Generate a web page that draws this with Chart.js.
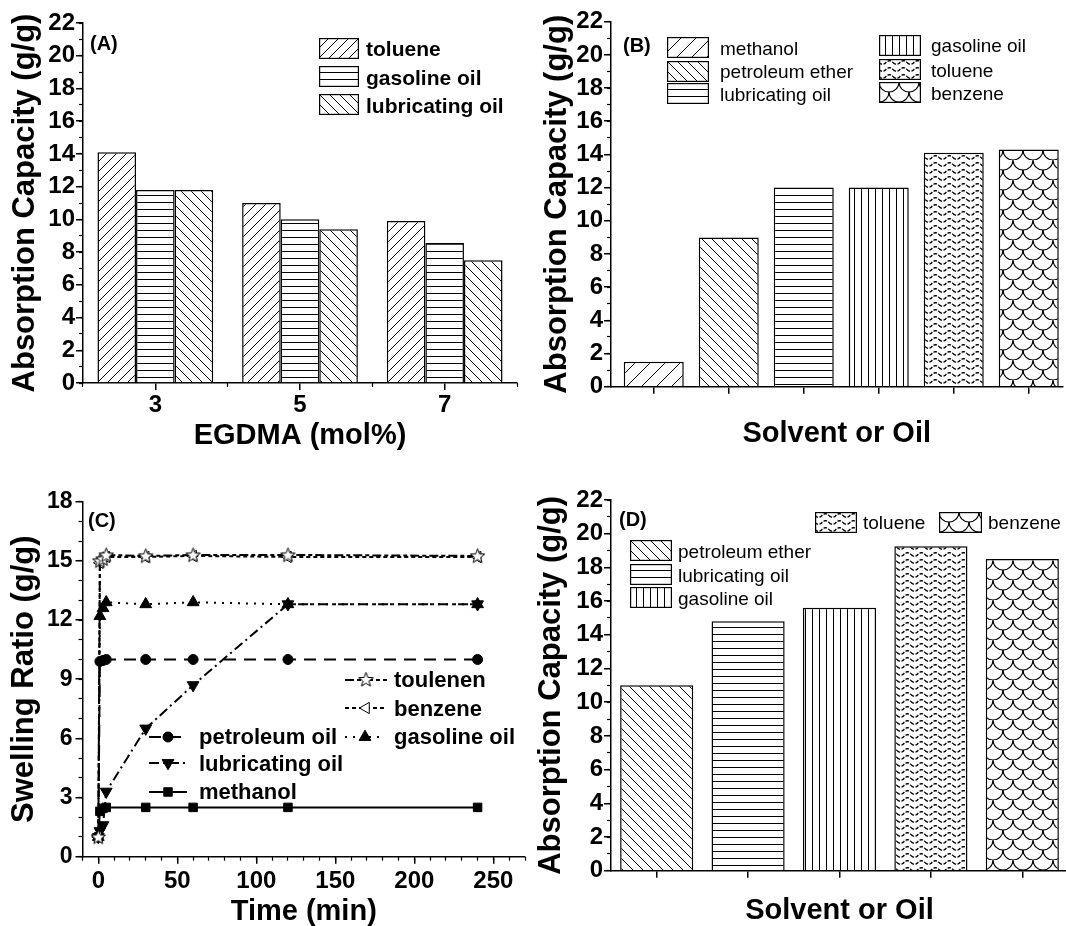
<!DOCTYPE html>
<html><head><meta charset="utf-8">
<script src="https://cdn.jsdelivr.net/npm/chart.js@4.4.1/dist/chart.umd.min.js"></script>
<style>
html,body{margin:0;padding:0;background:#fff;overflow:hidden;width:1066px;height:926px;}
.cv{position:absolute;}
.t{position:absolute;font-family:'Liberation Sans',Arial,Helvetica,sans-serif;color:#000;white-space:nowrap;line-height:1;}
.b{font-weight:bold;}
.sw{position:absolute;}
</style></head><body>
<canvas id="cA" class="cv" width="533" height="460" style="left:0;top:0"></canvas>
<canvas id="cB" class="cv" width="533" height="460" style="left:533px;top:0"></canvas>
<canvas id="cC" class="cv" width="533" height="466" style="left:0;top:460px"></canvas>
<canvas id="cD" class="cv" width="545" height="466" style="left:533px;top:460px"></canvas>
<div id="overlay"></div>
<script>
// ---------------- DATA ----------------
const egdmaLabels = ['3', '5', '7'];
const aToluene = [14.1, 11.0, 9.9];
const aGasoline = [11.8, 10.0, 8.55];
const aLubricating = [11.8, 9.4, 7.5];

const bSolvents = ['methanol', 'petroleum ether', 'lubricating oil', 'gasoline oil', 'toluene', 'benzene'];
const bValues = [1.5, 9.0, 12.0, 12.0, 14.1, 14.3];

const cTime = [0, 1, 3, 5, 30, 60, 120, 240];
const cToluene = [1.0, 15.0, 15.1, 15.3, 15.25, 15.3, 15.3, 15.25];
const cBenzene = [1.0, 14.9, 15.1, 15.2, 15.2, 15.25, 15.2, 15.2];
const cGasoline = [1.0, 12.2, 12.6, 12.9, 12.8, 12.9, 12.8, 12.8];
const cPetroleum = [1.0, 9.9, 9.95, 10.0, 10.0, 10.0, 10.0, 10.0];
const cLubricating = [1.0, 1.3, 1.6, 3.3, 6.5, 8.7, 12.8, 12.8];
const cMethanol = [1.0, 2.3, 2.45, 2.5, 2.5, 2.5, 2.5, 2.5];

const dSolvents = ['petroleum ether', 'lubricating oil', 'gasoline oil', 'toluene', 'benzene'];
const dValues = [11.0, 14.8, 15.6, 19.25, 18.5];

const absTicks = [0, 2, 4, 6, 8, 10, 12, 14, 16, 18, 20, 22];
const swellTicks = [0, 3, 6, 9, 12, 15, 18];
const timeTicks = [0, 50, 100, 150, 200, 250];

// ---------------- STYLE HELPERS ----------------
const FONT = "'Liberation Sans', Arial, Helvetica, sans-serif";
const BLACK = '#000';
const TICK_SIZE = 24;
const TITLE_SIZE = 29;
const YTITLE_SIZE = 31;

function tile(type) {
  const sizes = {fwd: [10, 10], fwd15: [15, 15], back: [10, 10], horiz: [8, 7], vert: [7, 8], wave: [14, 7], scale: [20, 20]};
  const [w, h] = sizes[type];
  const c = document.createElement('canvas'); c.width = w; c.height = h;
  const g = c.getContext('2d');
  g.fillStyle = '#fff'; g.fillRect(0, 0, w, h);
  g.strokeStyle = BLACK; g.fillStyle = BLACK; g.lineWidth = 1;
  g.beginPath();
  if (type === 'fwd' || type === 'fwd15') {
    for (let k = -1; k <= 1; k++) { g.moveTo(k * w, h); g.lineTo(k * w + w, 0); }
    g.stroke();
  } else if (type === 'back') {
    for (let k = -1; k <= 1; k++) { g.moveTo(k * w, 0); g.lineTo(k * w + w, h); }
    g.stroke();
  } else if (type === 'horiz') {
    g.fillRect(0, h - 1, w, 1);
  } else if (type === 'vert') {
    g.fillRect(w - 1, 0, 1, h);
  } else if (type === 'wave') {
    g.lineWidth = 1.5;
    g.setLineDash([3.5, 1.5]);
    for (let x = 0; x <= w; x += 0.5) {
      const y = 3.5 + 1.8 * Math.sin(2 * Math.PI * x / w);
      if (x === 0) g.moveTo(x, y); else g.lineTo(x, y);
    }
    g.stroke();
  } else if (type === 'scale') {
    g.lineWidth = 1.2;
    g.arc(10, 0, 10, 0, Math.PI); g.stroke();
    g.beginPath(); g.arc(0, 10, 10, 0, Math.PI / 2); g.stroke();
    g.beginPath(); g.arc(20, 10, 10, Math.PI / 2, Math.PI); g.stroke();
  }
  return c;
}
function pattern(ctx, type) { return ctx.createPattern(tile(type), 'repeat'); }

function yAxes(ticksArr, max, minorStep, width, title, titlePad, tickSize, tickPad) {
  return {
    y: {
      type: 'linear', position: 'left', min: 0, max: max, weight: 1,
      afterBuildTicks: s => { s.ticks = ticksArr.map(v => ({value: v})); },
      afterFit: s => { s.width = width; },
      grid: {drawOnChartArea: false, drawTicks: true, tickLength: 7, tickWidth: 1.5, color: BLACK, lineWidth: 1.5},
      border: {display: true, color: BLACK, width: 1.5},
      ticks: {color: BLACK, padding: tickPad, font: {family: FONT, size: tickSize, weight: 'bold'}},
      title: {display: true, text: title, color: BLACK, padding: {top: titlePad, bottom: 0},
              font: {family: FONT, size: YTITLE_SIZE, weight: 'bold', lineHeight: 1}}
    },
    yMinor: {
      type: 'linear', position: 'left', min: 0, max: max, weight: 0,
      afterFit: s => { s.width = 0; },
      grid: {drawOnChartArea: false, drawTicks: true, tickLength: 4, tickWidth: 1.2, color: BLACK, lineWidth: 1},
      border: {display: false},
      ticks: {display: false, stepSize: minorStep}
    }
  };
}
function xTitle(text, pb) {
  return {display: true, text: text, color: BLACK, padding: {top: 0, bottom: pb},
          font: {family: FONT, size: TITLE_SIZE, weight: 'bold', lineHeight: 1}};
}
const xGrid = {offset: false, drawOnChartArea: false, drawTicks: true, tickLength: 7, tickWidth: 1.5, color: BLACK, lineWidth: 1.5};
const xBorder = {display: true, color: BLACK, width: 1.5};
const baseOpts = {responsive: false, animation: false, events: [], plugins: {legend: {display: false}, tooltip: {enabled: false}}};

// ---------------- CHART A ----------------
(function () {
  const ctx = document.getElementById('cA').getContext('2d');
  new Chart(ctx, {
    type: 'bar',
    data: {
      labels: egdmaLabels,
      datasets: [
        {label: 'toluene', data: aToluene, backgroundColor: pattern(ctx, 'fwd')},
        {label: 'gasoline oil', data: aGasoline, backgroundColor: pattern(ctx, 'horiz')},
        {label: 'lubricating oil', data: aLubricating, backgroundColor: pattern(ctx, 'back')}
      ].map(d => Object.assign(d, {borderColor: BLACK, borderWidth: 1.5, categoryPercentage: 0.8, barPercentage: 1.0}))
    },
    options: Object.assign({}, baseOpts, {
      layout: {padding: {top: 23, right: 16, bottom: 0, left: 0}},
      scales: Object.assign({
        x: {type: 'category', position: 'bottom', offset: true, weight: 1,
            afterFit: s => { s.height = 77; },
            grid: xGrid, border: xBorder,
            ticks: {color: BLACK, padding: 1, maxRotation: 0, autoSkip: false, font: {family: FONT, size: TICK_SIZE, weight: 'bold'}},
            title: xTitle('EGDMA (mol%)', 10)},
        xMinor: {type: 'category', position: 'bottom', offset: true, weight: 0,
            afterFit: s => { s.height = 0; },
            grid: {offset: true, drawOnChartArea: false, drawTicks: true, tickLength: 4, tickWidth: 1.2, color: BLACK},
            border: {display: false}, ticks: {display: false}}
      }, yAxes(absTicks, 22, 1, 83, 'Absorption Capacity (g/g)', 9.5, TICK_SIZE, 1))
    })
  });
})();

// ---------------- CHART B ----------------
const bPatternTypes = ['fwd15', 'back', 'horiz', 'vert', 'wave', 'scale'];
(function () {
  const ctx = document.getElementById('cB').getContext('2d');
  new Chart(ctx, {
    type: 'bar',
    data: {
      datasets: [{
        label: 'Absorption', data: bValues.map((v, i) => ({x: i + 1, y: v})),
        backgroundColor: bPatternTypes.map(t => pattern(ctx, t)),
        borderColor: BLACK, borderWidth: 1.5, barPercentage: 0.8, categoryPercentage: 1.0
      }]
    },
    options: Object.assign({}, baseOpts, {
      layout: {padding: {top: 21.7, right: 3.5, bottom: 0, left: 0}},
      scales: Object.assign({
        x: {type: 'linear', position: 'bottom', min: 0.43, max: 6.45, offset: false, weight: 1,
            afterBuildTicks: s => { s.ticks = bSolvents.map((n, i) => ({value: i + 1})); },
            afterFit: s => { s.height = 73.3; },
            grid: xGrid, border: xBorder, ticks: {display: false},
            title: xTitle('Solvent or Oil', 12)}
      }, yAxes(absTicks, 22, 1, 78, 'Absorption Capacity (g/g)', 8.5, TICK_SIZE, 1))
    })
  });
})();

// ---------------- CHART C ----------------
function starImage() {
  const c = document.createElement('canvas'); c.width = 17; c.height = 17;
  const g = c.getContext('2d');
  g.beginPath();
  for (let i = 0; i < 10; i++) {
    const r = i % 2 === 0 ? 7.6 : 3.2;
    const a = -Math.PI / 2 + i * Math.PI / 5;
    const x = 8.5 + r * Math.cos(a), y = 9 + r * Math.sin(a);
    if (i === 0) g.moveTo(x, y); else g.lineTo(x, y);
  }
  g.closePath(); g.fillStyle = '#fff'; g.fill(); g.strokeStyle = BLACK; g.lineWidth = 1; g.stroke();
  return c;
}
const STAR = starImage();
const cSeries = [
  {label: 'toulenen', values: cToluene, dash: [9, 3, 4, 3], style: STAR, rot: 0, r: 7, fill: '#fff'},
  {label: 'benzene', values: cBenzene, dash: [4, 3], style: 'triangle', rot: 270, r: 6.5, fill: '#fff'},
  {label: 'gasoline oil', values: cGasoline, dash: [2, 6], style: 'triangle', rot: 0, r: 6.8, fill: BLACK},
  {label: 'petroleum oil', values: cPetroleum, dash: [12, 8], style: 'circle', rot: 0, r: 5, fill: BLACK},
  {label: 'lubricating oil', values: cLubricating, dash: [10, 4, 2, 4], style: 'triangle', rot: 180, r: 6.8, fill: BLACK},
  {label: 'methanol', values: cMethanol, dash: [], style: 'rect', rot: 0, r: 6, fill: BLACK}
];
(function () {
  const ctx = document.getElementById('cC').getContext('2d');
  new Chart(ctx, {
    type: 'line',
    data: {
      datasets: cSeries.map(s => ({
        label: s.label, data: s.values.map((v, i) => ({x: cTime[i], y: v})),
        borderColor: BLACK, borderWidth: 2, borderDash: s.dash, tension: 0, fill: false,
        pointStyle: s.style, pointRotation: s.rot, pointRadius: s.r,
        pointBackgroundColor: s.fill, pointBorderColor: BLACK, pointBorderWidth: 1
      }))
    },
    options: Object.assign({}, baseOpts, {
      layout: {padding: {top: 41.7, right: 3, bottom: 0, left: 0}},
      scales: Object.assign({
        x: {type: 'linear', position: 'bottom', min: -10, max: 270, weight: 1,
            afterBuildTicks: s => { s.ticks = timeTicks.map(v => ({value: v})); },
            afterFit: s => { s.height = 69.3; },
            grid: xGrid, border: xBorder,
            ticks: {color: BLACK, padding: 3.5, maxRotation: 0, autoSkip: false, font: {family: FONT, size: TICK_SIZE, weight: 'bold'}},
            title: xTitle('Time (min)', 0)},
        xMinor: {type: 'linear', position: 'bottom', min: -10, max: 270, weight: 0,
            afterFit: s => { s.height = 0; },
            grid: {drawOnChartArea: false, drawTicks: true, tickLength: 4, tickWidth: 1.2, color: BLACK},
            border: {display: false}, ticks: {display: false, stepSize: 10}}
      }, yAxes(swellTicks, 18, 1, 82.5, 'Swelling Ratio (g/g)', 9, 23, 3))
    })
  });
})();

// ---------------- CHART D ----------------
const dPatternTypes = ['back', 'horiz', 'vert', 'wave', 'scale'];
(function () {
  const ctx = document.getElementById('cD').getContext('2d');
  new Chart(ctx, {
    type: 'bar',
    data: {
      labels: dSolvents,
      datasets: [{
        label: 'Absorption', data: dValues,
        backgroundColor: dPatternTypes.map(t => pattern(ctx, t)),
        borderColor: BLACK, borderWidth: 1.5, barPercentage: 0.8, categoryPercentage: 1.0
      }]
    },
    options: Object.assign({}, baseOpts, {
      layout: {padding: {top: 40, right: 10, bottom: 0, left: 0}},
      scales: Object.assign({
        x: {type: 'category', position: 'bottom', offset: true, weight: 1,
            afterFit: s => { s.height = 55.3; },
            grid: xGrid, border: xBorder, ticks: {display: false},
            title: xTitle('Solvent or Oil', 1)}
      }, yAxes(absTicks, 22, 1, 78, 'Absorption Capacity (g/g)', 2.5, TICK_SIZE, 1))
    })
  });
})();

// ---------------- LABELS & LEGENDS (HTML) ----------------
const overlay = document.getElementById('overlay');
function addText(text, left, top, size, bold) {
  const d = document.createElement('div');
  d.className = 't' + (bold ? ' b' : '');
  d.style.left = left + 'px'; d.style.top = top + 'px'; d.style.fontSize = size + 'px';
  d.textContent = text; overlay.appendChild(d);
}
function addCanvas(left, top, w, h, draw) {
  const c = document.createElement('canvas'); c.width = w; c.height = h; c.className = 'sw';
  c.style.left = left + 'px'; c.style.top = top + 'px';
  draw(c.getContext('2d'), w, h); overlay.appendChild(c);
}
function patchSwatch(left, top, w, h, type) {
  addCanvas(left, top, w, h, (g) => {
    g.fillStyle = g.createPattern(tile(type), 'repeat'); g.fillRect(0, 0, w, h);
    g.strokeStyle = BLACK; g.lineWidth = 1.2; g.strokeRect(0.6, 0.6, w - 1.2, h - 1.2);
  });
}
function drawMarker(g, s, x, y) {
  g.setLineDash([]);
  if (s.style === STAR) { g.drawImage(STAR, x - 8.5, y - 9); return; }
  g.fillStyle = s.fill; g.strokeStyle = BLACK; g.lineWidth = 1;
  g.beginPath();
  if (s.style === 'circle') { g.arc(x, y, s.r, 0, 2 * Math.PI); }
  else if (s.style === 'rect') { const a = s.r * Math.SQRT1_2; g.rect(x - a, y - a, 2 * a, 2 * a); }
  else {
    const rad = s.rot * Math.PI / 180;
    for (let i = 0; i < 3; i++) {
      const a = rad + i * 2 * Math.PI / 3;
      const px = x + Math.sin(a) * s.r, py = y - Math.cos(a) * s.r;
      if (i === 0) g.moveTo(px, py); else g.lineTo(px, py);
    }
    g.closePath();
  }
  g.fill(); g.stroke();
}
function lineSwatch(left, cy, w, s) {
  addCanvas(left, cy - 10, w, 20, (g) => {
    g.strokeStyle = BLACK; g.lineWidth = 2; g.setLineDash(s.dash);
    g.beginPath(); g.moveTo(0, 10); g.lineTo(w, 10); g.stroke();
    drawMarker(g, s, w / 2, 10);
  });
}

// panel labels
addText('(A)', 90, 33, 20, true);
addText('(B)', 623, 35, 20, true);
addText('(C)', 88, 510, 20, true);
addText('(D)', 619, 509, 20, true);

// legend A
const aLegend = [['toluene', 'fwd'], ['gasoline oil', 'horiz'], ['lubricating oil', 'back']];
aLegend.forEach((it, i) => {
  const top = 38 + i * 28.2;
  patchSwatch(319, top, 40, 21, it[1]);
  addText(it[0], 366, top + 0.3, 21, true);
});

// legend B
const bLegendCols = [[0, 1, 2], [3, 4, 5]];
const bColX = [[667, 720, [37.3, 60.7, 83.3]], [879, 931, [35, 59.3, 82.3]]];
bLegendCols.forEach((col, ci) => {
  col.forEach((idx, ri) => {
    const top = bColX[ci][2][ri];
    patchSwatch(bColX[ci][0], top, 42, 21, bPatternTypes[idx]);
    addText(bSolvents[idx], bColX[ci][1], top + 1.2, 19, false);
  });
});

// legend D
[[0, 540], [1, 564], [2, 587.3]].forEach(([idx, top]) => {
  patchSwatch(630, top, 42, 21, dPatternTypes[idx]);
  addText(dSolvents[idx], 678, top + 1.5, 19, false);
});
patchSwatch(815, 511.7, 42, 21, dPatternTypes[3]);
addText(dSolvents[3], 863, 513, 19, false);
patchSwatch(939, 511.7, 43, 21, dPatternTypes[4]);
addText(dSolvents[4], 988, 513, 19, false);

// legend C
const cLegendPos = [
  [0, 345, 680, 42, 394], [1, 345, 708.3, 42, 394], [3, 149, 736.7, 38, 199],
  [2, 345, 736.7, 40, 394], [4, 149, 763.3, 38, 199], [5, 149, 791.7, 38, 199]
];
cLegendPos.forEach(([idx, lx, cy, w, tx]) => {
  lineSwatch(lx, cy, w, cSeries[idx]);
  addText(cSeries[idx].label, tx, cy - 10.8, 22, true);
});
</script>
</body></html>
